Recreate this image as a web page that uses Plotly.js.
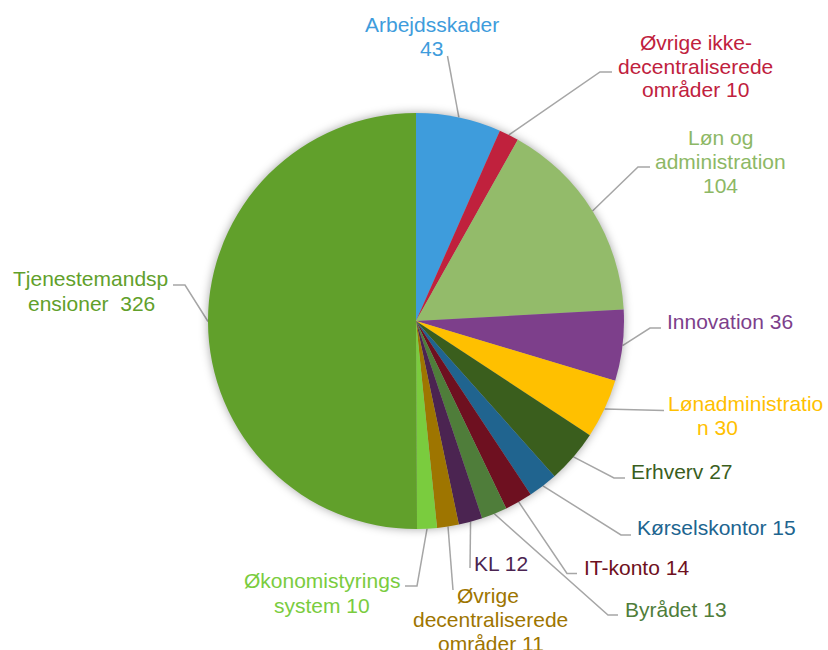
<!DOCTYPE html>
<html>
<head>
<meta charset="utf-8">
<script src="https://cdn.plot.ly/plotly-3.0.1.min.js"></script>
<style>
  html, body { margin: 0; padding: 0; background: #fff; }
  #chart { width: 828px; height: 650px; }
  .pielayer .trace { filter: drop-shadow(0px 0px 5px rgba(0,0,0,0.35)); }
</style>
</head>
<body>
<div id="chart"></div>
<script>
// ---- data ----
const categories = [
  "Arbejdsskader",
  "Øvrige ikke-decentraliserede områder",
  "Løn og administration",
  "Innovation",
  "Lønadministration",
  "Erhverv",
  "Kørselskontor",
  "IT-konto",
  "Byrådet",
  "KL",
  "Øvrige decentraliserede områder",
  "Økonomistyringssystem",
  "Tjenestemandspensioner"
];
const values = [43, 10, 104, 36, 30, 27, 15, 14, 13, 12, 11, 10, 326];
const labelFormats = [
  "Arbejdsskader|%v",
  "Øvrige ikke-|decentraliserede|områder %v",
  "Løn og|administration|%v",
  "Innovation %v",
  "Lønadministratio|n %v",
  "Erhverv %v",
  "Kørselskontor %v",
  "IT-konto %v",
  "Byrådet %v",
  "KL %v",
  "Øvrige|decentraliserede|områder %v",
  "Økonomistyrings|system %v",
  "Tjenestemandsp|ensioner\u00a0 %v"
];

// ---- styles ----
const sliceColors = ["#3E9CDC", "#C0213D", "#93BB6A", "#7D3F8B", "#FFC000", "#3A5E1D",
  "#20648F", "#6E1020", "#4F7D3A", "#4B2451", "#9E7500", "#7ACC3E", "#61A02B"];
const textColors = ["#3E9CDC", "#C0213D", "#8DB865", "#7D3F8B", "#FFC000", "#3A5E1D",
  "#20648F", "#6E1020", "#4F7D3A", "#4B2451", "#9E7500", "#7ACC3E", "#61A02B"];

// ---- layout geometry (pixels) ----
const W = 828, H = 650, CX = 416, CY = 321, R = 208;
const FONT = "Liberation Sans, Arial, sans-serif", FS = 21;
// label placement: per line x (center or left), first-line y, line spacing, anchor; leader waypoints
const labelPos = [
  {xs: [431.5, 431.5], y: 24, dy: 24.3, anchor: "center", path: [[447.5, 56]]},
  {xs: [695.5, 695.5, 695.5], y: 43, dy: 23.3, anchor: "center", path: [[600, 72], [612, 72]]},
  {xs: [720, 720, 720], y: 137, dy: 24.3, anchor: "center", path: [[638, 167], [650, 167]]},
  {xs: [666], y: 321, dy: 24, anchor: "left", path: [[650, 328], [661, 328]]},
  {xs: [745.5, 717], y: 403, dy: 24, anchor: "center", path: [[664, 410.5]]},
  {xs: [630], y: 471, dy: 24, anchor: "left", path: [[614, 478], [625, 478]]},
  {xs: [636], y: 527, dy: 24, anchor: "left", path: [[621, 535], [631, 535]]},
  {xs: [582.5], y: 567, dy: 24, anchor: "left", path: [[567, 573.5], [577, 573.5]]},
  {xs: [624], y: 609, dy: 24, anchor: "left", path: [[608, 615], [618, 615]]},
  {xs: [473], y: 563, dy: 24, anchor: "left", path: [[470, 568]]},
  {xs: [488, 490.5, 490.5], y: 595, dy: 24, anchor: "center", path: [[453, 590]]},
  {xs: [321.5, 321.5], y: 580, dy: 25, anchor: "center", path: [[417, 586], [405, 586]]},
  {xs: [90, 91], y: 278, dy: 25, anchor: "center", path: [[185, 285], [173, 285]]}
];

const px = x => x / W;
const py = y => 1 - y / H;

// ---- build annotations and leader lines ----
const total = values.reduce((a, b) => a + b, 0);
const annotations = [];
const shapes = [];
let cum = 0;
values.forEach((v, i) => {
  const mid = (cum + v / 2) / total * 2 * Math.PI;
  cum += v;
  const sx = CX + R * Math.sin(mid);
  const sy = CY - R * Math.cos(mid);
  const pts = [[sx, sy]].concat(labelPos[i].path);
  let d = "";
  pts.forEach((p, k) => { d += (k === 0 ? "M " : " L ") + px(p[0]) + "," + py(p[1]); });
  shapes.push({type: "path", xref: "paper", yref: "paper", path: d,
    line: {color: "#A6A6A6", width: 1.5}, layer: "below"});
  const lines = labelFormats[i].replace("%v", String(v)).split("|");
  lines.forEach((t, k) => {
    const lp = labelPos[i];
    annotations.push({
      xref: "paper", yref: "paper",
      x: px(lp.xs[Math.min(k, lp.xs.length - 1)]), y: py(lp.y + k * lp.dy),
      xanchor: lp.anchor, yanchor: "middle",
      text: t, showarrow: false, borderpad: 0,
      font: {family: FONT, size: FS, color: textColors[i]}
    });
  });
});

const data = [{
  type: "pie",
  labels: categories,
  values: values,
  sort: false,
  direction: "clockwise",
  rotation: 0,
  textinfo: "none",
  hoverinfo: "label+value",
  marker: {colors: sliceColors, line: {width: 0}},
  domain: {x: [px(CX - R), px(CX + R)], y: [py(CY + R), py(CY - R)]},
  showlegend: false
}];

const layout = {
  width: W, height: H,
  margin: {l: 0, r: 0, t: 0, b: 0},
  paper_bgcolor: "#ffffff",
  showlegend: false,
  annotations: annotations,
  shapes: shapes,
  font: {family: FONT}
};

Plotly.newPlot("chart", data, layout, {displayModeBar: false, staticPlot: true});
</script>
</body>
</html>
